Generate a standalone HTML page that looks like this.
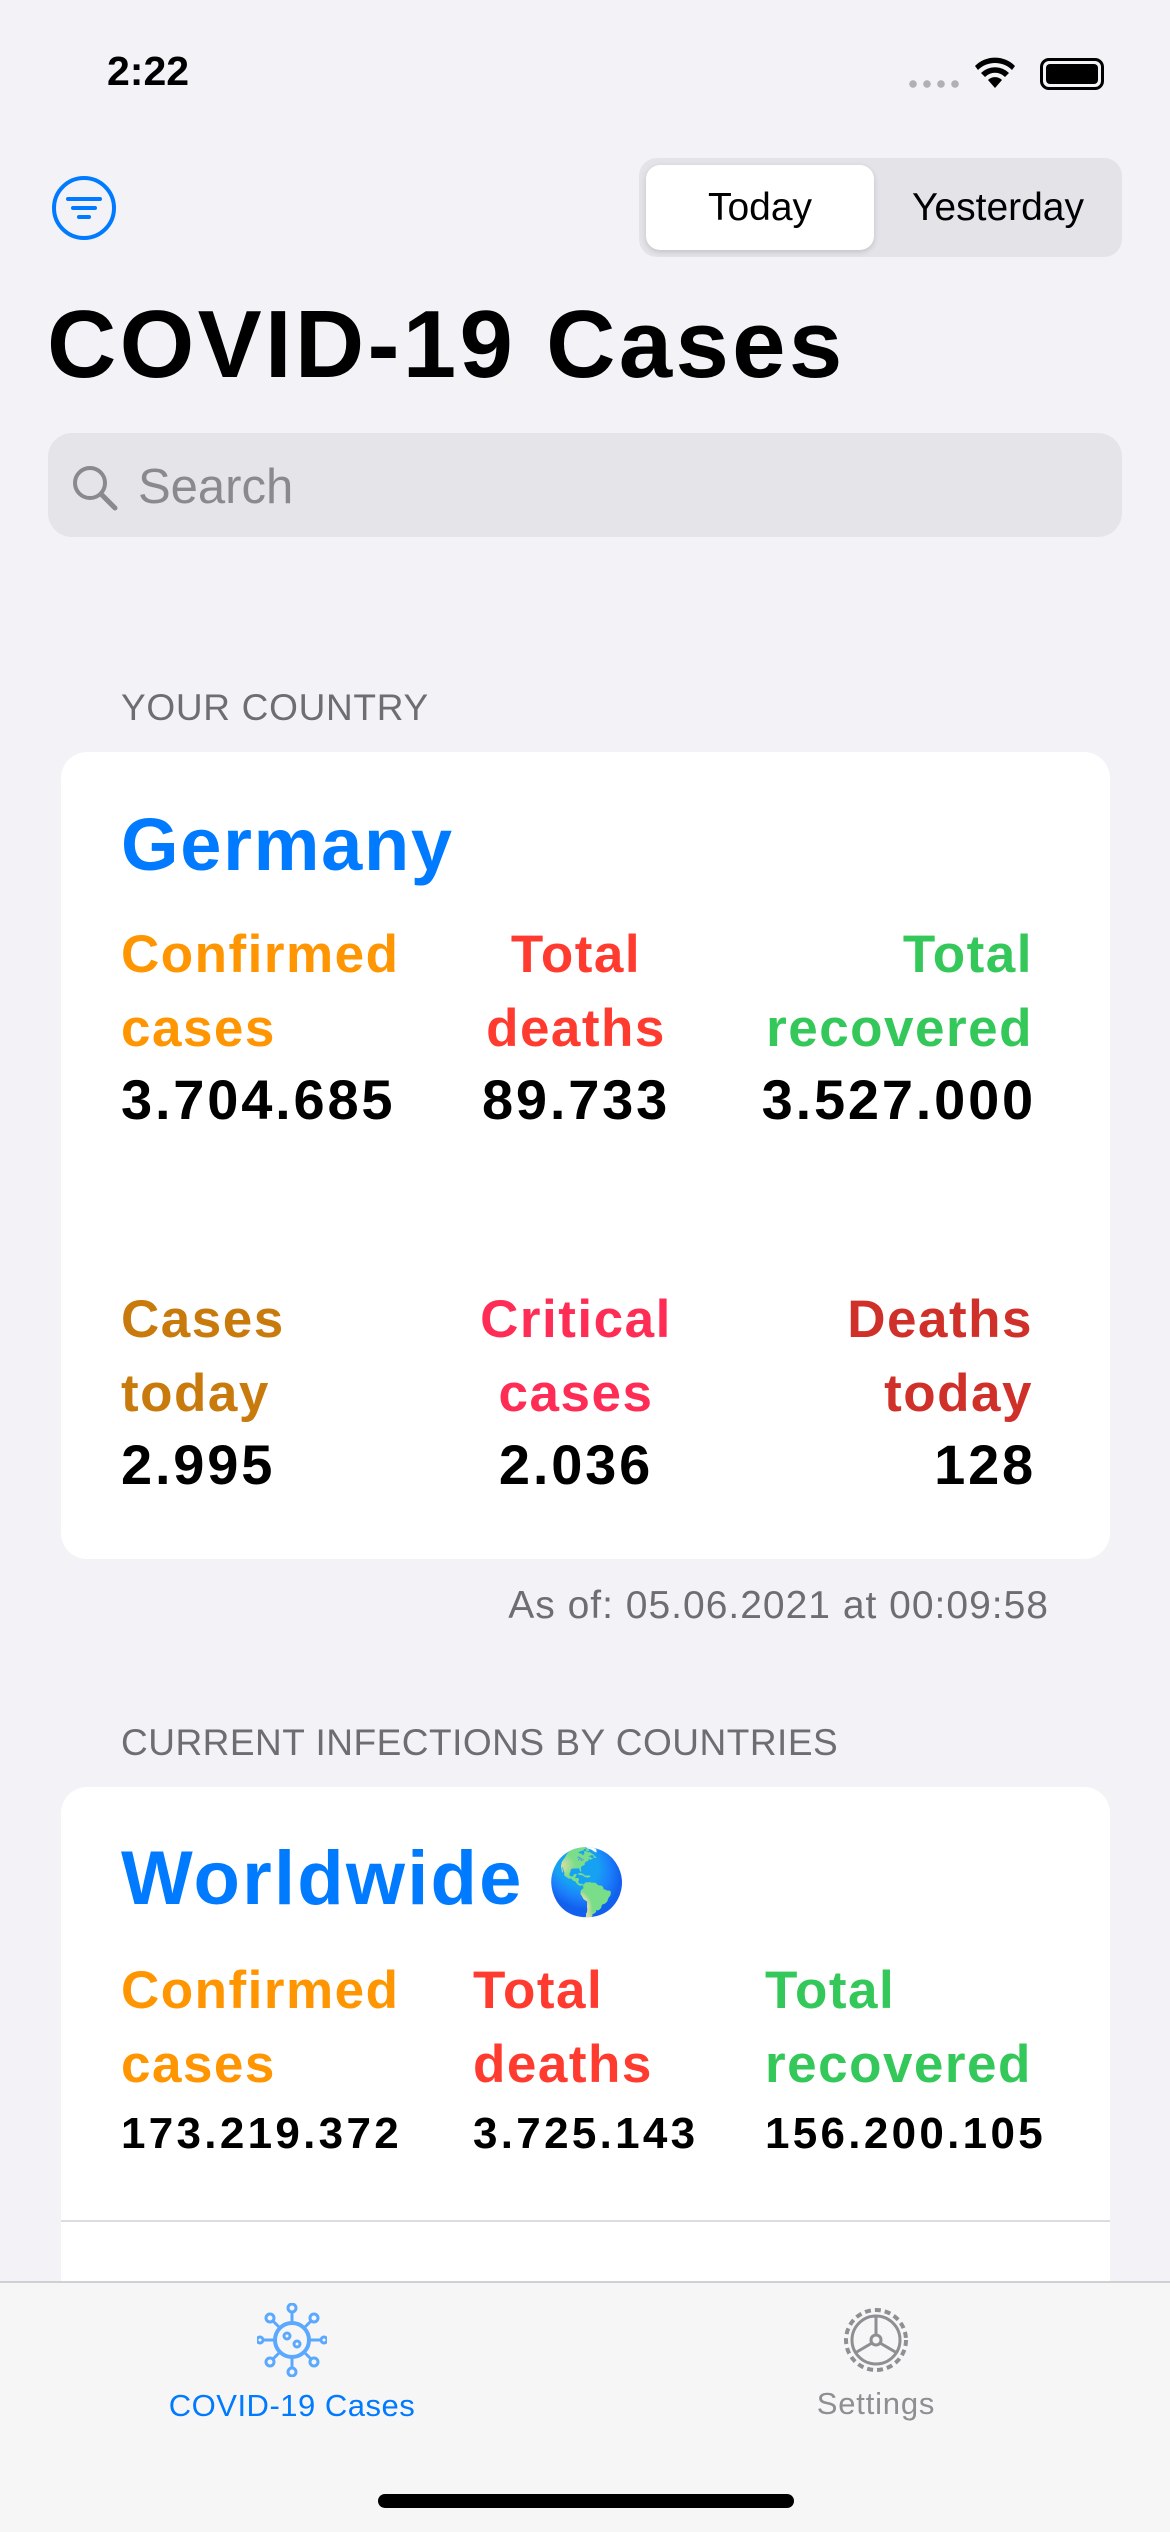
<!DOCTYPE html>
<html><head><meta charset="utf-8">
<style>
*{margin:0;padding:0;box-sizing:border-box}
body{width:1170px;height:2532px;background:#f2f2f7;font-family:"Liberation Sans",sans-serif;position:relative;overflow:hidden;color:#000}
.abs{position:absolute}
.lbl{font-weight:bold;font-size:53px;line-height:74px;letter-spacing:1.5px}
.val{font-weight:bold;font-size:56px;letter-spacing:2.8px;top:0}
.val2{font-weight:bold;font-size:44px;letter-spacing:3.3px}
</style></head><body>
<div class="abs" style="left:107px;top:48px;font-size:41px;font-weight:bold">2:22</div>
<div class="abs" style="left:906px;top:80px;width:56px;height:8px;background:radial-gradient(circle,#b0b0b5 3.5px,transparent 4px) 0 0/14px 8px repeat-x"></div>
<svg class="abs" style="left:974px;top:56px" width="42" height="34" viewBox="0 0 42 34"><path d="M21 32 L14 24 A10 10 0 0 1 28 24Z M7 17 A20 20 0 0 1 35 17 L31 21 A14 14 0 0 0 11 21Z M1 10 A28 28 0 0 1 41 10 L38 14 A24 24 0 0 0 4 14Z" fill="#000"/></svg>
<div class="abs" style="left:1040px;top:58px;width:64px;height:32px;border:3px solid #000;border-radius:9px;padding:3px"><div style="width:100%;height:100%;background:#000;border-radius:4px"></div></div>
<svg class="abs" style="left:51px;top:175px" width="66" height="66" viewBox="0 0 66 66"><circle cx="33" cy="33" r="30" fill="none" stroke="#007aff" stroke-width="4"/><path d="M17 24h32M22 33h22M28 42h10" stroke="#007aff" stroke-width="4" stroke-linecap="round"/></svg>
<div class="abs" style="left:639px;top:158px;width:483px;height:99px;background:#e3e3e8;border-radius:18px">
<div class="abs" style="left:7px;top:7px;width:228px;height:85px;background:#fff;border-radius:14px;box-shadow:0 2px 6px rgba(0,0,0,.15);text-align:center;line-height:85px;font-size:39px">Today</div>
<div class="abs" style="left:240px;top:7px;width:238px;height:85px;text-align:center;line-height:85px;font-size:39px">Yesterday</div></div>
<div class="abs" style="left:47px;top:290px;font-size:96px;font-weight:bold;line-height:110px;letter-spacing:3.3px">COVID-19 Cases</div>
<div class="abs" style="left:48px;top:433px;width:1074px;height:104px;background:#e4e4e9;border-radius:24px">
<svg class="abs" style="left:22px;top:30px" width="50" height="50" viewBox="0 0 50 50"><circle cx="20" cy="20" r="15" fill="none" stroke="#8a8a8e" stroke-width="4"/><path d="M31 31l14 14" stroke="#8a8a8e" stroke-width="5" stroke-linecap="round"/></svg>
<div class="abs" style="left:90px;top:26px;font-size:49px;color:#8a8a8e">Search</div></div>
<div class="abs" style="left:121px;top:687px;font-size:37px;letter-spacing:0.7px;color:#6d6d72">YOUR COUNTRY</div>
<div class="abs" style="left:61px;top:752px;width:1049px;height:807px;background:#fff;border-radius:26px">
<div class="abs" style="left:60px;top:50px;font-size:74px;font-weight:bold;color:#007aff;letter-spacing:1.7px">Germany</div>
<div class="abs lbl" style="left:60px;top:166px;color:#ff9500">Confirmed<br>cases</div>
<div class="abs val" style="left:60px;top:315px">3.704.685</div>
<div class="abs lbl" style="left:395px;width:240px;text-align:center;top:166px;color:#ff3b30">Total<br>deaths</div>
<div class="abs val" style="left:365px;width:300px;text-align:center;top:315px">89.733</div>
<div class="abs lbl" style="right:77px;text-align:right;top:166px;color:#34c759">Total<br>recovered</div>
<div class="abs val" style="right:74px;top:315px">3.527.000</div>
<div class="abs lbl" style="left:60px;top:531px;color:#c97a0c">Cases<br>today</div>
<div class="abs val" style="left:60px;top:680px">2.995</div>
<div class="abs lbl" style="left:395px;width:240px;text-align:center;top:531px;color:#ff2d55">Critical<br>cases</div>
<div class="abs val" style="left:365px;width:300px;text-align:center;top:680px">2.036</div>
<div class="abs lbl" style="right:77px;text-align:right;top:531px;color:#d0302a">Deaths<br>today</div>
<div class="abs val" style="right:74px;top:680px">128</div></div>
<div class="abs" style="right:121px;top:1584px;font-size:39px;letter-spacing:1px;color:#6d6d72">As of: 05.06.2021 at 00:09:58</div>
<div class="abs" style="left:121px;top:1722px;font-size:37px;letter-spacing:0.5px;color:#6d6d72">CURRENT INFECTIONS BY COUNTRIES</div>
<div class="abs" style="left:61px;top:1787px;width:1049px;height:600px;background:#fff;border-radius:26px 26px 0 0">
<div class="abs" style="left:60px;top:48px;font-size:76px;font-weight:bold;color:#007aff;letter-spacing:2.2px">Worldwide <span style="font-size:64px">🌎</span></div>
<div class="abs lbl" style="left:60px;top:167px;color:#ff9500">Confirmed<br>cases</div>
<div class="abs val2" style="left:60px;top:322px">173.219.372</div>
<div class="abs lbl" style="left:412px;top:167px;color:#ff3b30">Total<br>deaths</div>
<div class="abs val2" style="left:412px;top:322px">3.725.143</div>
<div class="abs lbl" style="left:704px;top:167px;color:#34c759">Total<br>recovered</div>
<div class="abs val2" style="left:704px;top:322px">156.200.105</div>
<div class="abs" style="left:0;top:433px;width:1049px;height:2px;background:#dcdce0"></div></div>
<div class="abs" style="left:0;top:2281px;width:1170px;height:251px;background:#f6f6f6;border-top:2px solid #d0d0d4">
<div class="abs" style="left:142px;top:20px;width:300px;text-align:center">
<svg width="70" height="74" viewBox="0 0 70 74"><circle cx="35" cy="37" r="17" fill="none" stroke="#5aa9ff" stroke-width="4"/><g stroke="#5aa9ff" stroke-width="3" fill="none"><path d="M35 20V8M35 54v12M18 37H6M52 37h12M23 25l-8-8M47 49l8 8M47 25l8-8M23 49l-8 8"/><circle cx="35" cy="5" r="4"/><circle cx="35" cy="69" r="4"/><circle cx="3" cy="37" r="3"/><circle cx="67" cy="37" r="3"/><circle cx="13" cy="15" r="4"/><circle cx="57" cy="59" r="4"/><circle cx="57" cy="15" r="4"/><circle cx="13" cy="59" r="4"/><circle cx="30" cy="33" r="3"/><circle cx="40" cy="41" r="3"/></g></svg>
<div style="font-size:31px;letter-spacing:0.5px;color:#007aff;margin-top:6px">COVID-19 Cases</div></div>
<div class="abs" style="left:726px;top:20px;width:300px;text-align:center">
<svg width="74" height="74" viewBox="0 0 74 74"><circle cx="37" cy="37" r="30" fill="none" stroke="#8e8e93" stroke-width="4" stroke-dasharray="6 4"/><circle cx="37" cy="37" r="24" fill="none" stroke="#8e8e93" stroke-width="3"/><circle cx="37" cy="37" r="5" fill="none" stroke="#8e8e93" stroke-width="3"/><path d="M37 13v19M41 40l17 10M33 40l-17 10" stroke="#8e8e93" stroke-width="3"/></svg>
<div style="font-size:31px;letter-spacing:0.8px;color:#8e8e93;margin-top:4px">Settings</div></div>
<div class="abs" style="left:378px;top:211px;width:416px;height:14px;background:#000;border-radius:7px"></div></div>
</body></html>
